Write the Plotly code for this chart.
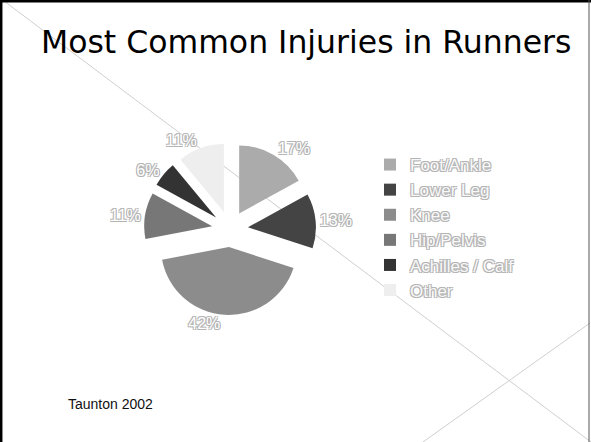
import plotly.graph_objects as go

W, H = 591, 442

labels = ["Foot/Ankle", "Lower Leg", "Knee", "Hip/Pelvis", "Achilles / Calf", "Other"]
values = [17, 13, 42, 11, 6, 11]
colors = ["#ababab", "#444444", "#8c8c8c", "#777777", "#333333", "#eeeeee"]
title_text = "Most Common Injuries in Runners"
source_text = "Taunton 2002"

outline = "-1px -1px 0 #b4b4b4, 1px -1px 0 #b4b4b4, -1px 1px 0 #b4b4b4, 1px 1px 0 #b4b4b4"

def px_x(x):
    return x / W

def px_y(y):
    return 1 - y / H

cx, cy, ext = 230, 229, 86

fig = go.Figure(
    go.Pie(
        labels=labels,
        values=values,
        sort=False,
        direction="clockwise",
        rotation=0,
        pull=[0.265] * len(values),
        marker=dict(colors=colors, line=dict(width=0)),
        textinfo="percent",
        textposition="outside",
        outsidetextfont=dict(family="Liberation Sans, Arial", size=16, color="#ffffff",
                             shadow=outline),
        domain=dict(x=[px_x(cx - ext), px_x(cx + ext)],
                    y=[px_y(cy + ext), px_y(cy - ext)]),
        hoverinfo="label+percent",
    )
)

shapes = [
    dict(type="line", xref="paper", yref="paper", x0=0, y0=px_y(-2), x1=1, y1=px_y(442),
         line=dict(color="#cfcfcf", width=1), layer="below"),
    dict(type="line", xref="paper", yref="paper", x0=px_x(423), y0=px_y(442), x1=px_x(590), y1=px_y(323),
         line=dict(color="#cfcfcf", width=1), layer="below"),
    dict(type="line", xref="paper", yref="paper", x0=px_x(1.2), y0=0, x1=px_x(1.2), y1=1,
         line=dict(color="#000000", width=2.5)),
    dict(type="line", xref="paper", yref="paper", x0=0, y0=px_y(1.2), x1=1, y1=px_y(1.2),
         line=dict(color="#000000", width=2.5)),
    dict(type="line", xref="paper", yref="paper", x0=px_x(589), y0=0, x1=px_x(589), y1=1,
         line=dict(color="#555555", width=1)),
]

annotations = [
    dict(text=title_text, xref="paper", yref="paper", x=px_x(39), y=px_y(42),
         xanchor="left", yanchor="middle", showarrow=False,
         font=dict(family="DejaVu Sans", size=31.5, color="#000000")),
    dict(text=source_text, xref="paper", yref="paper", x=px_x(66), y=px_y(404),
         xanchor="left", yanchor="middle", showarrow=False,
         font=dict(family="Liberation Sans, Arial", size=14, color="#111111")),
]

fig.update_layout(
    width=W, height=H,
    margin=dict(l=0, r=0, t=0, b=0),
    paper_bgcolor="#ffffff",
    plot_bgcolor="#ffffff",
    showlegend=True,
    legend=dict(
        x=px_x(370), y=px_y(147), xanchor="left", yanchor="top",
        font=dict(family="Liberation Sans, Arial", size=17, color="#f8f8f8", shadow=outline),
        bgcolor="rgba(0,0,0,0)",
        itemclick=False,
    ),
    shapes=shapes,
    annotations=annotations,
)

fig.write_html("out.html", config={"displayModeBar": False},
               post_script="document.body.style.margin='0';")
